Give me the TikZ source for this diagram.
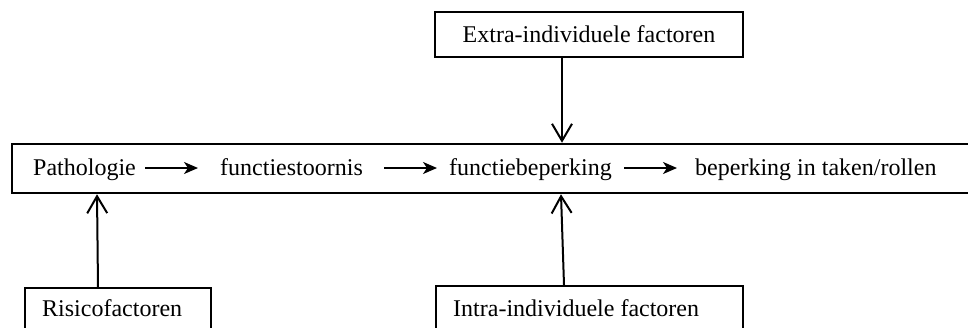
\documentclass[tikz,border=0pt]{standalone}
\usepackage{fontspec}
\setmainfont{Liberation Serif}
\usetikzlibrary{arrows.meta}
\begin{document}
\begin{tikzpicture}[x=1pt,y=-1pt,
  txt/.style={inner sep=0pt,anchor=base west,font=\fontsize{24}{28}\selectfont,text height=18pt,text depth=4pt},
  fbox/.style={draw,line width=2pt,inner sep=0pt,font=\fontsize{24}{28}\selectfont},
  harrow/.style={line width=2pt,-{Stealth[length=14pt,width=12pt,inset=4pt]}},
  varrow/.style={line width=2pt,-{Straight Barb[length=17pt,width=20pt]}}]
\useasboundingbox (0,0) rectangle (968,327);
% main box
\node[draw,line width=2.5pt,inner sep=0pt,minimum width=963pt,minimum height=49pt] (main) at (493.5,168.5) {};
\node[txt] (p1) at (33,175) {Pathologie};
\node[txt] (p2) at (220,175) {functiestoornis};
\node[txt] (p3) at (449,175) {functiebeperking};
\node[txt] (p4) at (695,175) {beperking in taken/rollen};
\draw[harrow] ([xshift=9pt]p1.east) -- ([xshift=-22pt]p2.west);
\draw[harrow] ([xshift=21pt]p2.east) -- ([xshift=-12pt]p3.west);
\draw[harrow] ([xshift=12pt]p3.east) -- ([xshift=-18pt]p4.west);
% factor boxes
\node[fbox,minimum width=308pt,minimum height=45pt] (extra) at (589,34.5) {Extra-individuele factoren};
\node[fbox,minimum width=186pt,minimum height=60pt,anchor=north west] (risico) at (24,287) {};
\node[txt] (rt) at (42,316) {Risicofactoren};
\node[fbox,minimum width=307pt,minimum height=60pt,anchor=north west] (intra) at (435,285) {};
\node[txt] (it) at (453,316) {Intra-individuele factoren};
% vertical arrows
\draw[varrow] ([xshift=-27pt]extra.south) -- ([xshift=68.5pt]main.north);
\draw[varrow] ([xshift=-20pt]risico.north) -- ([xshift=-396.5pt]main.south);
\draw[varrow] ([xshift=-25.5pt]intra.north) -- ([xshift=67.5pt]main.south);
\end{tikzpicture}
\end{document}
